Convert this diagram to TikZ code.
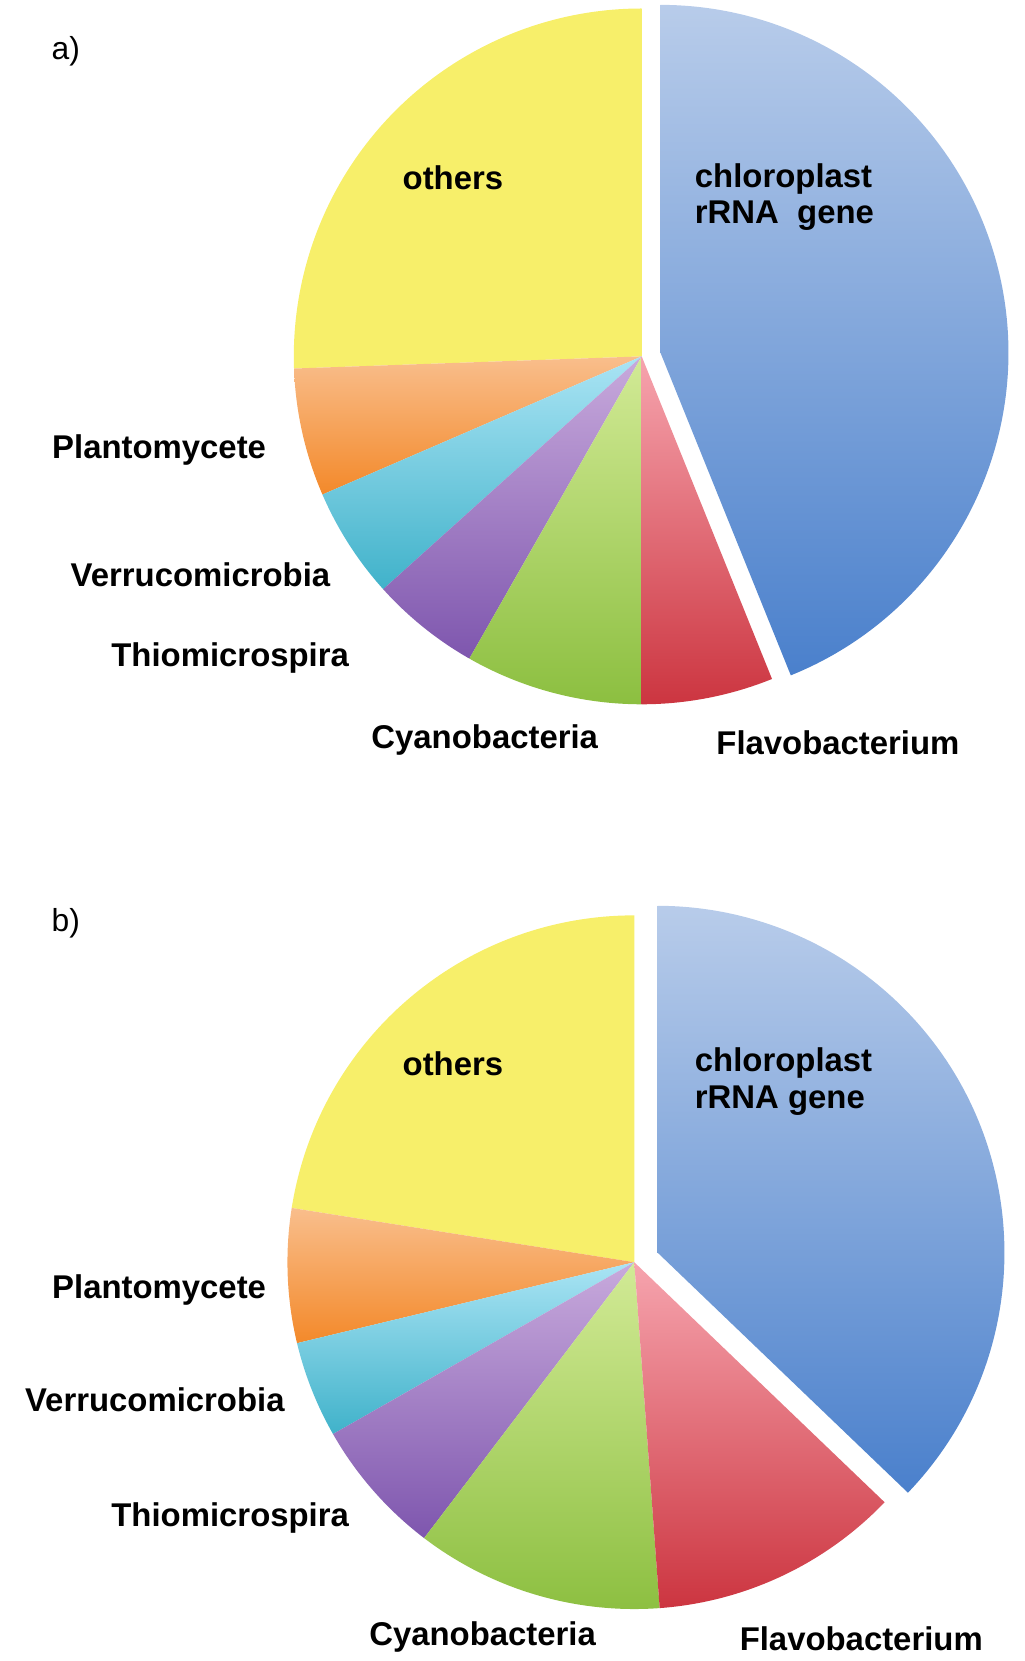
\documentclass[tikz,border=0pt]{standalone}
\usepackage{fontspec}
\setmainfont{Liberation Sans}
\begin{document}
\begin{tikzpicture}[x=1pt,y=-1pt,
  lab/.style={font=\fontsize{31}{34}\selectfont\bfseries,inner sep=0pt},
  panel/.style={font=\fontsize{30}{33}\selectfont,inner sep=0pt}]
\useasboundingbox (0,0) rectangle (965.5,1566);
% slice macro: cx, cy, r, a1, a2, top colour, bottom colour
\newcommand\myslice[7]{%
  \shade[top color=#6,bottom color=#7] (#1,#2) -- ++({#3*cos(#4)},{-#3*sin(#4)}) arc[start angle=-#4,end angle=-#5,radius=#3] -- cycle;}
\definecolor{blT}{HTML}{B8CCEA}\definecolor{blB}{HTML}{4A80CC}
\definecolor{ye}{HTML}{F7EF6A}
\definecolor{orT}{HTML}{F9BE8C}\definecolor{orB}{HTML}{F3892A}
\definecolor{cyT}{HTML}{AAE4F4}\definecolor{cyB}{HTML}{40B2CA}
\definecolor{puT}{HTML}{C8AADC}\definecolor{puB}{HTML}{7E56AE}
\definecolor{grT}{HTML}{D2EA96}\definecolor{grB}{HTML}{8CBF40}
\definecolor{reT}{HTML}{F6A4AE}\definecolor{reB}{HTML}{CC3540}
% pie a
\myslice{605}{336}{328}{90}{182}{ye}{ye}
\myslice{605}{336}{328}{182}{203.4}{orT}{orB}
\myslice{605}{336}{328}{203.4}{222}{cyT}{cyB}
\myslice{605}{336}{328}{222}{240.3}{puT}{puB}
\myslice{605}{336}{328}{240.3}{270}{grT}{grB}
\myslice{605}{336}{328}{270}{292}{reT}{reB}
\myslice{622.7}{332.6}{328}{292}{450}{blT}{blB}
% pie b
\myslice{598}{1190}{327}{90}{171}{ye}{ye}
\myslice{598}{1190}{327}{171}{193.5}{orT}{orB}
\myslice{598}{1190}{327}{193.5}{209.7}{cyT}{cyB}
\myslice{598}{1190}{327}{209.7}{232.7}{puT}{puB}
\myslice{598}{1190}{327}{232.7}{274.2}{grT}{grB}
\myslice{598}{1190}{327}{274.2}{316.2}{reT}{reB}
\myslice{620}{1181}{327}{316.2}{450}{blT}{blB}
% labels a
\node[panel] (pa) at (62,48) {a)};
\node[lab] (oa) at (427,168) {others};
\node[lab,align=left,anchor=north west] (ca) at (655,154) {chloroplast\\rRNA\ \ gene};
\node[lab] (pla) at (150,424) {Plantomycete};
\node[lab] (vea) at (189,542) {Verrucomicrobia};
\node[lab] (tha) at (217,620) {Thiomicrospira};
\node[lab] (cya) at (457,698) {Cyanobacteria};
\node[lab] (fla) at (790,700) {Flavobacterium};
% labels b
\node[panel] (pb) at (62,870) {b)};
\node[lab] (ob) at (427,1003) {others};
\node[lab,align=left,anchor=north west] (cb) at (655,988) {chloroplast\\rRNA gene};
\node[lab] (plb) at (150,1216) {Plantomycete};
\node[lab] (veb) at (146,1320) {Verrucomicrobia};
\node[lab] (thb) at (217,1431) {Thiomicrospira};
\node[lab] (cyb) at (455,1543) {Cyanobacteria};
\node[lab] (flb) at (812,1545) {Flavobacterium};
\end{tikzpicture}
\end{document}
